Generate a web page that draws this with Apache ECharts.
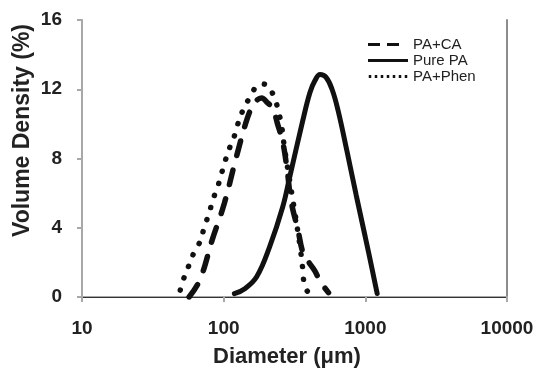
<!DOCTYPE html>
<html>
<head>
<meta charset="utf-8">
<script src="https://cdn.jsdelivr.net/npm/echarts@6/dist/echarts.min.js"></script>
<style>
html, body { margin: 0; padding: 0; background: #fff; }
#chart { width: 541px; height: 371px; }
</style>
</head>
<body>
<div id="chart"></div>
<script>
// values (diameter in um, volume density in %)
var caDiameter = [57, 68, 83, 101, 123, 148, 165, 185, 205, 222, 240, 262, 280, 300, 336, 362, 400, 441, 480, 550];
var caVolume = [0, 1.0, 3.3, 5.4, 8.1, 10.4, 11.2, 11.5, 11.2, 10.9, 10.0, 8.9, 7.4, 5.5, 3.8, 2.6, 2.0, 1.5, 0.9, 0.25];

var pureDiameter = [119, 141, 171, 211, 261, 293, 362, 406, 441, 479, 527, 582, 641, 743, 861, 997, 1117, 1212];
var pureVolume = [0.19, 0.48, 1.17, 2.9, 5.2, 6.95, 10.2, 11.8, 12.5, 12.85, 12.7, 12.0, 10.8, 8.4, 5.9, 3.5, 1.6, 0.2];

var phenDiameter = [49.4, 52.8, 57, 62, 69, 73, 79, 83, 91, 96, 102, 110, 119, 126, 137, 152, 172, 190, 204, 229, 242, 255, 270, 301, 345, 363, 374, 417];
var phenVolume = [0.4, 1.17, 1.85, 2.6, 3.3, 4.06, 4.83, 5.5, 6.4, 7.05, 7.8, 8.6, 9.3, 10.0, 10.8, 11.5, 12.2, 12.3, 12.2, 11.5, 10.8, 10.0, 8.5, 6.1, 3.0, 1.5, 0.6, 0.05];

var seriesNames = ["PA+CA", "Pure PA", "PA+Phen"];
var xTicks = [10, 100, 1000, 10000];
var yTicks = [0, 4, 8, 12, 16];

var font = "'Liberation Sans', Arial, sans-serif";

// legend line samples, drawn as small filled shapes
var legendIcons = [
	"path://M0,0h12v3h-12z M19,0h12v3h-12z M40,0z",
	"path://M0,0h40v3h-40z",
	"path://M0,0h2.5v3h-2.5z M6,0h2.5v3h-2.5z M12,0h2.5v3h-2.5z M18,0h2.5v3h-2.5z M24,0h2.5v3h-2.5z M30,0h2.5v3h-2.5z M36,0h2.5v3h-2.5z"
];

function pairs(xs, ys) {
	return xs.map((x, i) => [x, ys[i]]);
}

var mychart = echarts.init(document.getElementById("chart"), null, {renderer: "canvas"});

var option = {
	animation: false,
	backgroundColor: "#fff",
	grid: {left: 82, right: 34, top: 20, bottom: 74},
	legend: {
		orient: "vertical",
		left: 368,
		top: 37,
		padding: 0,
		itemWidth: 40,
		itemHeight: 3,
		itemGap: 1,
		data: seriesNames.map((n, i) => ({name: n, icon: legendIcons[i]})),
		itemStyle: {color: "#111", borderWidth: 0},
		textStyle: {fontFamily: font, fontSize: 15, color: "#222", lineHeight: 15}
	},
	xAxis: [{
		type: "log",
		logBase: 10,
		min: xTicks[0],
		max: xTicks[xTicks.length - 1],
		axisLine: {lineStyle: {color: "#a8a8a8", width: 2}},
		axisTick: {show: true, length: 5, lineStyle: {color: "#a8a8a8", width: 2}},
		splitLine: {show: false},
		axisLabel: {
			margin: 22,
			fontFamily: font, fontSize: 19, fontWeight: "bold", color: "#222",
			formatter: v => String(Math.round(v))
		}
	}, {
		type: "log",
		position: "top",
		min: xTicks[0],
		max: xTicks[xTicks.length - 1],
		axisLine: {show: true, lineStyle: {color: "#333", width: 1}},
		axisTick: {show: false},
		axisLabel: {show: false},
		splitLine: {show: false}
	}],
	yAxis: [{
		type: "value",
		min: yTicks[0],
		max: yTicks[yTicks.length - 1],
		interval: 4,
		axisLine: {show: true, lineStyle: {color: "#a8a8a8", width: 2}},
		axisTick: {show: true, length: 5, lineStyle: {color: "#a8a8a8", width: 2}},
		splitLine: {show: false},
		axisLabel: {margin: 20, fontFamily: font, fontSize: 19, fontWeight: "bold", color: "#222"}
	}, {
		type: "value",
		position: "right",
		min: yTicks[0],
		max: yTicks[yTicks.length - 1],
		axisLine: {show: true, lineStyle: {color: "#8c8c8c", width: 2}},
		axisTick: {show: false},
		axisLabel: {show: false},
		splitLine: {show: false}
	}],
	graphic: [{
		type: "text",
		left: 11,
		top: 24,
		rotation: Math.PI / 2,
		style: {
			text: "Volume Density (%)",
			fontFamily: font, fontSize: 23, fontWeight: "bold", fill: "#222"
		}
	}, {
		type: "text",
		left: 213,
		top: 346,
		style: {
			text: "Diameter (μm)",
			fontFamily: font, fontSize: 22, fontWeight: "bold", fill: "#222"
		}
	}],
	series: [{
		name: seriesNames[0],
		type: "line",
		smooth: 0.4,
		symbol: "none",
		data: pairs(caDiameter, caVolume),
		lineStyle: {color: "#111", width: 5.5, type: [15, 15], cap: "round"},
		itemStyle: {color: "#111"}
	}, {
		name: seriesNames[1],
		type: "line",
		smooth: 0.4,
		symbol: "none",
		data: pairs(pureDiameter, pureVolume),
		lineStyle: {color: "#111", width: 5, type: "solid", cap: "round"},
		itemStyle: {color: "#111"}
	}, {
		name: seriesNames[2],
		type: "line",
		smooth: 0.4,
		symbol: "none",
		data: pairs(phenDiameter, phenVolume),
		lineStyle: {color: "#111", width: 5.5, type: [0.1, 12.5], cap: "round"},
		itemStyle: {color: "#111"}
	}]
};

mychart.setOption(option);
</script>
</body>
</html>
